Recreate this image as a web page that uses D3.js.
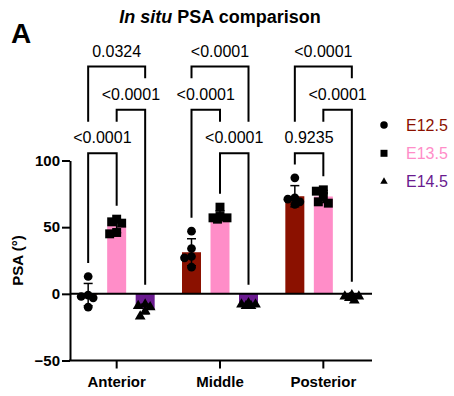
<!DOCTYPE html>
<html>
<head>
<meta charset="utf-8">
<script src="https://cdn.jsdelivr.net/npm/d3@7"></script>
<style>
  html, body { margin: 0; padding: 0; background: #fff; }
  svg { display: block; font-family: "Liberation Sans", Arial, Helvetica, sans-serif; }
</style>
</head>
<body>
<svg id="chart" width="454" height="396"></svg>
<script>
// ---------- data ----------
const groups = ["Anterior", "Middle", "Posterior"];
const series = ["E12.5", "E13.5", "E14.5"];
const seriesColors = ["#8B1100", "#FF8DC8", "#6A1B8F"];
const yTicks = [-50, 0, 50, 100];
// individual PSA values (degrees) per group, per stage
const e125 = [[13, -1, -2, -3, -10], [47, 34, 28, 27, 20], [87, 72, 71, 69, 67]];
const e135 = [[56, 54, 53, 46, 45], [65, 58, 57, 57, 56], [78, 77, 73, 69, 68]];
const e145 = [[-8, -9, -10, -13, -17], [-7, -8, -8, -9, -9], [-1, -2, -2, -3, -5]];
// pairwise comparisons: group, stage a, stage b, p value, stacking level
const compGroup = ["Anterior", "Anterior", "Anterior", "Middle", "Middle", "Middle", "Posterior", "Posterior", "Posterior"];
const compA     = ["E12.5", "E13.5", "E12.5", "E12.5", "E13.5", "E12.5", "E12.5", "E13.5", "E12.5"];
const compB     = ["E13.5", "E14.5", "E14.5", "E13.5", "E14.5", "E14.5", "E13.5", "E14.5", "E14.5"];
const compP     = ["<0.0001", "<0.0001", "0.0324", "<0.0001", "<0.0001", "<0.0001", "0.9235", "<0.0001", "<0.0001"];
const compLevel = [0, 1, 2, 1, 0, 2, 0, 1, 2];

const valuesBySeries = [e125, e135, e145];

// ---------- layout ----------
const svg = d3.select("#chart");
const axisX0 = 70, axisX1 = 372;
const y = d3.scaleLinear().domain([-50, 100]).range([360.5, 160.5]);
const x = d3.scaleBand().domain(groups).range([65, 375]).paddingInner(0).paddingOuter(0);
const xs = d3.scaleBand().domain(series).range([-42.75, 42.75]).paddingInner(1/3).paddingOuter(1/6);
const color = d3.scaleOrdinal().domain(series).range(seriesColors);
const symType = d3.scaleOrdinal().domain(series).range([d3.symbolCircle, d3.symbolSquare, d3.symbolTriangle]);
const symSize = d3.scaleOrdinal().domain(series).range([60, 80, 50]);
const symHalf = d3.scaleOrdinal().domain(series).range([4.4, 4.5, 4.5]);

const cx = (g, s) => x(g) + x.bandwidth() / 2 + xs(s) + xs.bandwidth() / 2;

// build records
const records = [];
groups.forEach((g, gi) => {
  series.forEach((s, si) => {
    const vals = valuesBySeries[si][gi];
    records.push({ g, s, vals, mean: d3.mean(vals), sd: d3.deviation(vals) });
  });
});

// ---------- title ----------
const title = svg.append("text").attr("x", 220).attr("y", 23).attr("text-anchor", "middle")
  .attr("font-size", 18).attr("font-weight", "bold");
title.append("tspan").attr("font-style", "italic").text("In situ");
title.append("tspan").text(" PSA comparison");
svg.append("text").attr("x", 11).attr("y", 43).attr("font-size", 28).attr("font-weight", "bold").text("A");

// ---------- bars ----------
svg.append("g").selectAll("rect").data(records).join("rect")
  .attr("x", d => cx(d.g, d.s) - xs.bandwidth() / 2)
  .attr("width", xs.bandwidth())
  .attr("y", d => Math.min(y(0), y(d.mean)))
  .attr("height", d => Math.abs(y(d.mean) - y(0)))
  .attr("fill", d => color(d.s));

// ---------- axes ----------
const yAxis = d3.axisLeft(y).tickValues(yTicks).tickSize(8).tickSizeOuter(0).tickPadding(2);
const gy = svg.append("g").attr("transform", `translate(${axisX0},0)`).call(yAxis);
gy.selectAll("path, line").attr("stroke", "#000").attr("stroke-width", 2);
gy.selectAll("text").attr("font-size", 15).attr("font-weight", "bold").attr("fill", "#000")
  .attr("font-family", "Liberation Sans, Arial, sans-serif");

const xAxis = d3.axisBottom(x).tickSize(8).tickSizeOuter(0).tickPadding(8);
const gx = svg.append("g").attr("transform", `translate(0,${y(-50)})`).call(xAxis);
gx.select(".domain").remove();
gx.selectAll("line").attr("stroke", "#000").attr("stroke-width", 2);
gx.selectAll("text").attr("font-size", 15).attr("font-weight", "bold").attr("fill", "#000")
  .attr("font-family", "Liberation Sans, Arial, sans-serif");
svg.append("line").attr("x1", axisX0 - 1).attr("x2", axisX1).attr("y1", y(-50)).attr("y2", y(-50))
  .attr("stroke", "#000").attr("stroke-width", 2);
// zero line
svg.append("line").attr("x1", axisX0).attr("x2", axisX1).attr("y1", y(0)).attr("y2", y(0))
  .attr("stroke", "#000").attr("stroke-width", 2);

svg.append("text").attr("transform", `translate(23,${(y(100) + y(-50)) / 2}) rotate(-90)`)
  .attr("text-anchor", "middle").attr("font-size", 15).attr("font-weight", "bold").text("PSA (°)");

// ---------- error bars (mean ± SD) ----------
const eb = svg.append("g").attr("stroke", "#000").attr("stroke-width", 1.5);
records.forEach(d => {
  const c = cx(d.g, d.s);
  eb.append("line").attr("x1", c).attr("x2", c).attr("y1", y(d.mean - d.sd)).attr("y2", y(d.mean + d.sd));
  [d.mean - d.sd, d.mean + d.sd].forEach(v =>
    eb.append("line").attr("x1", c - 4.5).attr("x2", c + 4.5).attr("y1", y(v)).attr("y2", y(v)));
});

// ---------- points (simple horizontal dodge) ----------
const pts = svg.append("g");
records.forEach(d => {
  const c = cx(d.g, d.s);
  const placed = [];
  const cands = [0, -5, 5, -2.5, 2.5, -7, 7];
  d.vals.slice().sort((a, b) => b - a).forEach(v => {
    const py = y(v);
    let best = 0, bestD = -1;
    for (const o of cands) {
      const md = placed.length ? d3.min(placed, p => Math.hypot(p.x - o, p.y - py)) : Infinity;
      if (md >= 5.5) { best = o; bestD = md; break; }
      if (md > bestD) { bestD = md; best = o; }
    }
    placed.push({ x: best, y: py });
    pts.append("path")
      .attr("d", d3.symbol().type(symType(d.s)).size(symSize(d.s))())
      .attr("transform", `translate(${c + best},${py})`)
      .attr("fill", "#000");
  });
});

// ---------- significance brackets ----------
const levelY0 = y(105.5), levelStep = 43.3;
const comps = compGroup.map((g, i) => ({
  g, a: compA[i], b: compB[i], p: compP[i], level: compLevel[i],
  ly: levelY0 - compLevel[i] * levelStep,
  xa: cx(g, compA[i]), xb: cx(g, compB[i])
}));
const br = svg.append("g");
comps.forEach(c => {
  const t = br.append("text").attr("x", (c.xa + c.xb) / 2).attr("y", c.ly - 10)
    .attr("text-anchor", "middle").attr("font-size", 16).text(c.p);
  const w = t.node().getComputedTextLength();
  c.l0 = (c.xa + c.xb) / 2 - w / 2; c.l1 = (c.xa + c.xb) / 2 + w / 2;
  c.labelTop = c.ly - 10 - 11.5;
});
const dataTop = (g, s) => {
  const r = records.find(d => d.g === g && d.s === s);
  return Math.min(y(0), y(d3.max(r.vals)) - symHalf(s));
};
const legEnd = (c, s, lx) => {
  let end = dataTop(c.g, s) - 9;
  comps.forEach(o => {
    if (o.g === c.g && o.level < c.level && lx >= o.l0 && lx <= o.l1) end = Math.min(end, o.labelTop - 10);
  });
  return end;
};
comps.forEach(c => {
  const ea = legEnd(c, c.a, c.xa), eb2 = legEnd(c, c.b, c.xb);
  br.append("path")
    .attr("d", `M${c.xa},${ea}V${c.ly}H${c.xb}V${eb2}`)
    .attr("fill", "none").attr("stroke", "#000").attr("stroke-width", 2);
});

// ---------- legend ----------
const lg = svg.append("g");
series.forEach((s, i) => {
  const ly = 125 + i * 28.3;
  lg.append("path").attr("d", d3.symbol().type(symType(s)).size([44, 49, 24][i])())
    .attr("transform", `translate(384,${ly})`).attr("fill", "#000");
  lg.append("text").attr("x", 406).attr("y", ly + 5.7).attr("font-size", 16).attr("fill", color(s)).text(s);
});
</script>
</body>
</html>
